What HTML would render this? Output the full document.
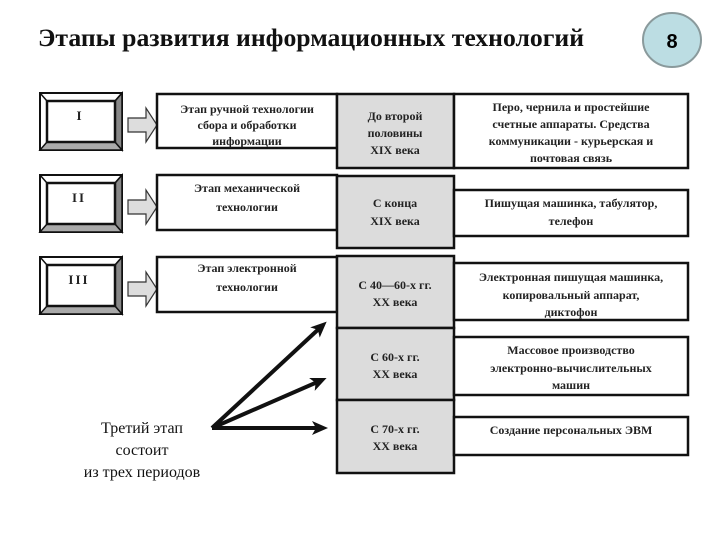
<!DOCTYPE html>
<html><head><meta charset="utf-8"><style>
html,body{margin:0;padding:0;background:#fff;width:720px;height:540px;overflow:hidden}
svg text{font-family:"Liberation Serif",serif;}
</style></head><body>
<svg width="720" height="540" viewBox="0 0 720 540" xmlns="http://www.w3.org/2000/svg">
<defs>
<marker id="ah" markerWidth="16" markerHeight="16" refX="11" refY="8" orient="auto" markerUnits="userSpaceOnUse" viewBox="0 0 16 16">
<path d="M0,1 L16,8 L0,15 L4,8 Z" fill="#111"/></marker>
<g id="bevel">
<rect x="0" y="0" width="82" height="57" fill="#fff" stroke="#111" stroke-width="2"/>
<polygon points="0,57 82,57 75,49 7,49" fill="#aaa" stroke="#111" stroke-width="1.5"/>
<polygon points="82,0 82,57 75,49 75,8" fill="#888" stroke="#111" stroke-width="1.5"/>
<rect x="7" y="8" width="68" height="41" fill="#fff" stroke="#111" stroke-width="2.5"/>
<line x1="0" y1="0" x2="7" y2="8" stroke="#111" stroke-width="1.5"/>
<line x1="82" y1="0" x2="75" y2="8" stroke="#111" stroke-width="1.5"/>
</g>
<polygon id="arr" points="0,-7 18,-7 18,-17 29,0 18,17 18,7 0,7" fill="#ddd" stroke="#333" stroke-width="1.2"/>
</defs>

<text x="38" y="46" font-size="25" font-weight="bold" textLength="546" lengthAdjust="spacingAndGlyphs" fill="#111">Этапы развития информационных технологий</text>
<ellipse cx="672" cy="40" rx="29" ry="27" fill="#bcdde3" stroke="#8a9a9c" stroke-width="2"/>
<text x="672" y="48" font-size="20" font-weight="bold" text-anchor="middle" style="font-family:'Liberation Sans',sans-serif">8</text>

<use href="#bevel" x="40" y="93"/>
<use href="#bevel" x="40" y="175"/>
<use href="#bevel" x="40" y="257"/>
<g font-size="13" font-weight="bold" text-anchor="middle" fill="#222">
<text x="79" y="120">I</text>
<text x="79" y="202" letter-spacing="2">II</text>
<text x="79" y="284" letter-spacing="2">III</text>
</g>
<use href="#arr" x="128" y="125"/>
<use href="#arr" x="128" y="207"/>
<use href="#arr" x="128" y="289"/>

<g stroke="#111" stroke-width="2.5">
<rect x="157" y="94" width="180" height="54" fill="#fff"/>
<rect x="157" y="175" width="180" height="55" fill="#fff"/>
<rect x="157" y="257" width="180" height="55" fill="#fff"/>
<rect x="337" y="94" width="117" height="74" fill="#dcdcdc"/>
<rect x="337" y="176" width="117" height="72" fill="#dcdcdc"/>
<rect x="337" y="256" width="117" height="72" fill="#dcdcdc"/>
<rect x="337" y="328" width="117" height="72" fill="#dcdcdc"/>
<rect x="337" y="400" width="117" height="73" fill="#dcdcdc"/>
<rect x="454" y="94" width="234" height="74" fill="#fff"/>
<rect x="454" y="190" width="234" height="46" fill="#fff"/>
<rect x="454" y="263" width="234" height="57" fill="#fff"/>
<rect x="454" y="337" width="234" height="58" fill="#fff"/>
<rect x="454" y="417" width="234" height="38" fill="#fff"/>
</g>

<g font-size="12" font-weight="bold" text-anchor="middle" fill="#222">
<text x="247" y="113">Этап ручной технологии</text>
<text x="247" y="129">сбора  и обработки</text>
<text x="247" y="145">информации</text>
<text x="247" y="192">Этап механической</text>
<text x="247" y="211">технологии</text>
<text x="247" y="272">Этап электронной</text>
<text x="247" y="291">технологии</text>

<text x="395" y="120">До второй</text>
<text x="395" y="137">половины</text>
<text x="395" y="154">XIX века</text>
<text x="395" y="207">С конца</text>
<text x="395" y="225">XIX века</text>
<text x="395" y="289">С  40—60-х гг.</text>
<text x="395" y="306">XX века</text>
<text x="395" y="361">С 60-х гг.</text>
<text x="395" y="378">XX века</text>
<text x="395" y="433">С 70-х гг.</text>
<text x="395" y="450">XX века</text>

<text x="571" y="111">Перо, чернила и простейшие</text>
<text x="571" y="128">счетные аппараты.  Средства</text>
<text x="571" y="145">коммуникации - курьерская и</text>
<text x="571" y="162">почтовая связь</text>
<text x="571" y="207">Пишущая машинка, табулятор,</text>
<text x="571" y="225">телефон</text>
<text x="571" y="281">Электронная пишущая машинка,</text>
<text x="571" y="299">копировальный аппарат,</text>
<text x="571" y="316">диктофон</text>
<text x="571" y="354">Массовое производство</text>
<text x="571" y="372">электронно-вычислительных</text>
<text x="571" y="389">машин</text>
<text x="571" y="434">Создание персональных ЭВМ</text>
</g>

<g stroke="#111" stroke-width="4" fill="none">
<line x1="212" y1="428" x2="323" y2="325" marker-end="url(#ah)"/>
<line x1="212" y1="428" x2="322" y2="380" marker-end="url(#ah)"/>
<line x1="212" y1="428" x2="323" y2="428" marker-end="url(#ah)"/>
</g>
<g font-size="16" text-anchor="middle" fill="#111">
<text x="142" y="433">Третий этап</text>
<text x="142" y="455">состоит</text>
<text x="142" y="477">из трех периодов</text>
</g>
</svg>
</body></html>
